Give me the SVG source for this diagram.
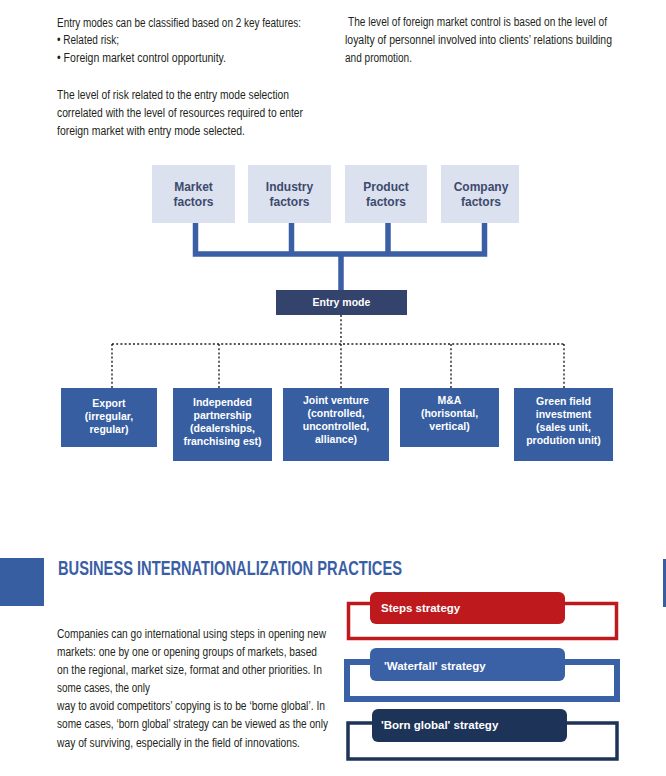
<svg xmlns="http://www.w3.org/2000/svg" width="666" height="776" viewBox="0 0 666 776">
<defs>
<style>
.body{font-family:"Liberation Sans",Arial,sans-serif;font-size:13.5px;fill:#231f20}
.fac{fill:#dbe1ef}
.fl{font-family:"Liberation Sans",Arial,sans-serif;font-weight:bold;font-size:12px;fill:#3d4a6c;text-anchor:middle}
.bx{fill:#365ea1}
.bl{font-family:"Liberation Sans",Arial,sans-serif;font-weight:bold;font-size:10.5px;fill:#ffffff;text-anchor:middle}
.conn{stroke:#3a5fa5;stroke-width:5.5;fill:none}
.dot{stroke:#231f20;stroke-width:1.4;stroke-dasharray:2 2.2;fill:none}
.tab{font-family:"Liberation Sans",Arial,sans-serif;font-weight:bold;font-size:11.5px;fill:#ffffff}
</style>
</defs>
<rect width="666" height="776" fill="#ffffff"/>

<g id="intro-left" transform="translate(57 0) scale(0.78 1)">
<text class="body" x="0" y="27" textLength="312.8" lengthAdjust="spacingAndGlyphs">Entry modes can be classified based on 2 key features:</text>
<text class="body" x="0" y="44.5" textLength="79.5" lengthAdjust="spacingAndGlyphs">• Related risk;</text>
<text class="body" x="0" y="62" textLength="216.7" lengthAdjust="spacingAndGlyphs">• Foreign market control opportunity.</text>
<text class="body" x="0" y="99" textLength="297.4" lengthAdjust="spacingAndGlyphs">The level of risk related to the entry mode selection</text>
<text class="body" x="0" y="117" textLength="315.4" lengthAdjust="spacingAndGlyphs">correlated with the level of resources required to enter</text>
<text class="body" x="0" y="135" textLength="241" lengthAdjust="spacingAndGlyphs">foreign market with entry mode selected.</text>
</g>
<g id="intro-right" transform="translate(345 0) scale(0.78 1)">
<text class="body" x="3.85" y="26" textLength="332" lengthAdjust="spacingAndGlyphs">The level of foreign market control is based on the level of</text>
<text class="body" x="0" y="44" textLength="342.3" lengthAdjust="spacingAndGlyphs">loyalty of personnel involved into clients’ relations building</text>
<text class="body" x="0" y="62" textLength="85.9" lengthAdjust="spacingAndGlyphs">and promotion.</text>
</g>

<g id="connectors">
<path class="conn" d="M195.5 222 V254 H484.5 V222 M291.5 222 V254 M388 222 V254 M341 254 V290"/>
<path class="dot" d="M341 315 V344 M112 344 H564 M112 344 V388 M219 344 V388 M341 344 V388 M451 344 V388 M564 344 V388"/>
</g>

<g id="market-factors">
<rect class="fac" x="152" y="165" width="83" height="58"/>
<text class="fl" x="193.5" y="191">Market</text>
<text class="fl" x="193.5" y="206">factors</text>
</g>
<g id="industry-factors">
<rect class="fac" x="248" y="165" width="83" height="58"/>
<text class="fl" x="289.5" y="191">Industry</text>
<text class="fl" x="289.5" y="206">factors</text>
</g>
<g id="product-factors">
<rect class="fac" x="345" y="165" width="82" height="58"/>
<text class="fl" x="386" y="191">Product</text>
<text class="fl" x="386" y="206">factors</text>
</g>
<g id="company-factors">
<rect class="fac" x="441" y="165" width="78" height="58"/>
<text class="fl" x="481" y="191">Company</text>
<text class="fl" x="481" y="206">factors</text>
</g>

<g id="entry-mode">
<rect x="276" y="290" width="131" height="25" fill="#33436b"/>
<text class="bl" x="341.5" y="306" font-size="11">Entry mode</text>
</g>

<g id="export">
<rect class="bx" x="61" y="388" width="96" height="59"/>
<text class="bl" x="109" y="407">Export</text>
<text class="bl" x="109" y="420">(irregular,</text>
<text class="bl" x="109" y="432.5">regular)</text>
</g>
<g id="independed-partnership">
<rect class="bx" x="173" y="388" width="99" height="73"/>
<text class="bl" x="222.5" y="406">Independed</text>
<text class="bl" x="222.5" y="419">partnership</text>
<text class="bl" x="222.5" y="432">(dealerships,</text>
<text class="bl" x="222.5" y="445">franchising est)</text>
</g>
<g id="joint-venture">
<rect class="bx" x="283" y="388" width="106" height="73"/>
<text class="bl" x="336" y="404">Joint venture</text>
<text class="bl" x="336" y="417">(controlled,</text>
<text class="bl" x="336" y="430">uncontrolled,</text>
<text class="bl" x="336" y="443">alliance)</text>
</g>
<g id="m-and-a">
<rect class="bx" x="400" y="388" width="99" height="59"/>
<text class="bl" x="449.5" y="404">M&amp;A</text>
<text class="bl" x="449.5" y="417">(horisontal,</text>
<text class="bl" x="449.5" y="430">vertical)</text>
</g>
<g id="green-field">
<rect class="bx" x="514" y="388" width="99" height="73"/>
<text class="bl" x="563.5" y="405">Green field</text>
<text class="bl" x="563.5" y="418">investment</text>
<text class="bl" x="563.5" y="431">(sales unit,</text>
<text class="bl" x="563.5" y="444">prodution unit)</text>
</g>

<g id="section-heading">
<rect x="0" y="558" width="44" height="48" fill="#365ea1"/>
<rect x="663" y="559" width="3" height="48" fill="#365ea1"/>
<g transform="translate(58 0) scale(0.65 1)">
<text x="0" y="575" font-family="'Liberation Sans',Arial,sans-serif" font-weight="bold" font-size="21" fill="#3a5ea6" textLength="529.2" lengthAdjust="spacingAndGlyphs">BUSINESS INTERNATIONALIZATION PRACTICES</text>
</g>
</g>

<g id="paragraph" transform="translate(57 0) scale(0.78 1)">
<text class="body" x="0" y="638" textLength="344.9" lengthAdjust="spacingAndGlyphs">Companies can go international using steps in opening new</text>
<text class="body" x="0" y="656" textLength="333.3" lengthAdjust="spacingAndGlyphs">markets: one by one or opening groups of markets, based</text>
<text class="body" x="0" y="674" textLength="339.7" lengthAdjust="spacingAndGlyphs">on the regional, market size, format and other priorities. In</text>
<text class="body" x="0" y="692" textLength="119.2" lengthAdjust="spacingAndGlyphs">some cases, the only</text>
<text class="body" x="0" y="710" textLength="343.6" lengthAdjust="spacingAndGlyphs">way to avoid competitors’ copying is to be ‘borne global’. In</text>
<text class="body" x="0" y="728" textLength="347.4" lengthAdjust="spacingAndGlyphs">some cases, ‘born global’ strategy can be viewed as the only</text>
<text class="body" x="0" y="747" textLength="311.5" lengthAdjust="spacingAndGlyphs">way of surviving, especially in the field of innovations.</text>
</g>

<g id="steps-strategy">
<rect x="348.5" y="603.5" width="268" height="35" fill="none" stroke="#be1a1d" stroke-width="3.5"/>
<rect x="370" y="592" width="195" height="32" rx="6" fill="#be1a1d"/>
<text class="tab" x="381" y="612">Steps strategy</text>
</g>
<g id="waterfall-strategy">
<rect x="347" y="662" width="270" height="37" fill="none" stroke="#3a60a5" stroke-width="6"/>
<rect x="370" y="648" width="195" height="33" rx="6" fill="#3a60a5"/>
<text class="tab" x="384" y="670">'Waterfall' strategy</text>
</g>
<g id="born-global-strategy">
<rect x="348" y="723" width="269" height="36" fill="none" stroke="#1e3358" stroke-width="3.5"/>
<rect x="372" y="709" width="195" height="33" rx="6" fill="#1e3358"/>
<text class="tab" x="381" y="729">'Born global' strategy</text>
</g>
</svg>
